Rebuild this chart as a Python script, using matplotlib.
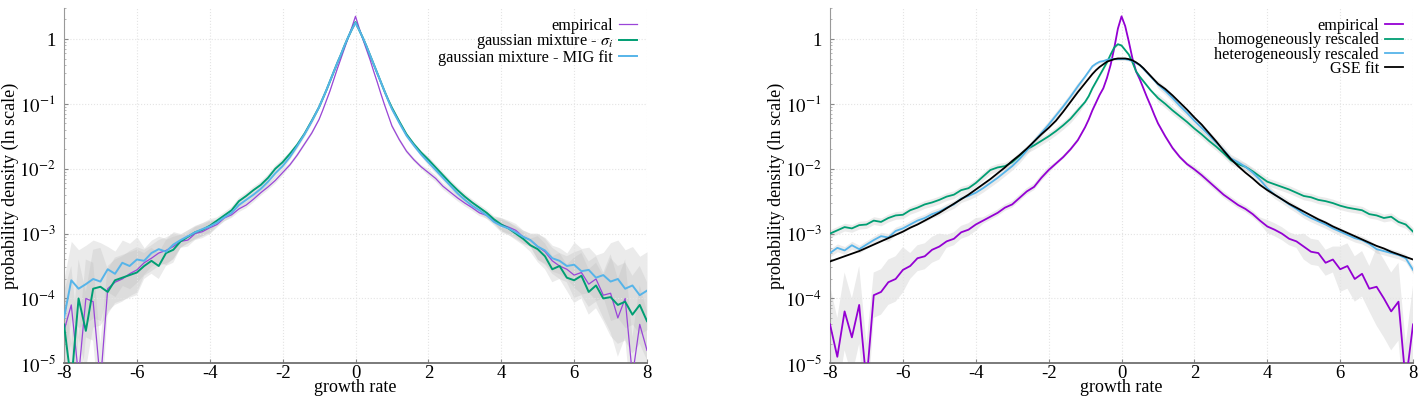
import numpy as np
import matplotlib
matplotlib.use("Agg")
import matplotlib.pyplot as plt
from matplotlib.ticker import FixedLocator, FixedFormatter, LogLocator, NullFormatter

plt.rcParams['font.family'] = ['Liberation Serif', 'DejaVu Serif']
plt.rcParams['mathtext.fontset'] = 'stix'
plt.rcParams['axes.unicode_minus'] = False

# ---------------- data (log10 of probability density) ----------------
# sample grid: -8..-1.2 step 0.2 (35), -1..0.9 step 0.1 (20), 1..8 step 0.2 (36)
growth = np.concatenate([np.arange(-8.0, -1.1, 0.2),
                         np.arange(-1.0, 0.95, 0.1),
                         np.arange(1.0, 8.01, 0.2)])

# left panel
L_empirical = [-4.5, -4.1, -5.2, -4.0, -4.05, -5.3, -3.85, -3.75, -3.7, -3.62,
               -3.56, -3.45, -3.38, -3.3, -3.26, -3.2, -3.12, -3.1, -3.0, -2.97,
               -2.91, -2.86, -2.76, -2.71, -2.62, -2.56, -2.47, -2.37, -2.28, -2.18,
               -2.06, -1.94, -1.79, -1.62, -1.45,
               -1.24, -1.10, -0.95, -0.80, -0.63, -0.46, -0.30, -0.14, 0.02, 0.18,
               0.35, 0.17, 0.0, -0.16, -0.32, -0.50, -0.67, -0.85, -1.02, -1.18,
               -1.34, -1.55, -1.73, -1.86, -1.97, -2.06, -2.15, -2.27, -2.36, -2.45,
               -2.53, -2.6, -2.68, -2.72, -2.8, -2.86, -2.9, -2.95, -3.05, -3.1,
               -3.2, -3.28, -3.42, -3.5, -3.55, -3.64, -3.6, -3.78, -3.7, -3.95,
               -3.92, -4.3, -4.0, -5.2, -4.4, -4.8]
L_mix_sigma = [-4.4, -5.3, -4.0, -4.5, -3.85, -3.82, -3.9, -3.72, -3.68, -3.64,
               -3.6, -3.5, -3.42, -3.5, -3.3, -3.25, -3.12, -3.05, -2.98, -2.94,
               -2.88, -2.8, -2.72, -2.64, -2.5, -2.42, -2.33, -2.25, -2.14, -2.0,
               -1.9, -1.77, -1.63, -1.46, -1.26,
               -1.05, -0.92, -0.79, -0.65, -0.51, -0.37, -0.24, -0.10, 0.03, 0.15,
               0.26, 0.14, 0.02, -0.11, -0.25, -0.39, -0.53, -0.67, -0.81, -0.94,
               -1.06, -1.27, -1.47, -1.62, -1.75, -1.86, -1.98, -2.1, -2.22, -2.33,
               -2.43, -2.52, -2.6, -2.68, -2.78, -2.86, -2.92, -3.0, -3.08, -3.18,
               -3.24, -3.35, -3.55, -3.5, -3.68, -3.72, -3.65, -3.9, -3.8, -4.0,
               -3.98, -4.1, -4.05, -4.25, -4.1, -4.35]
L_mix_mig = [-4.3, -3.72, -3.85, -3.78, -3.7, -3.74, -3.55, -3.62, -3.45, -3.5,
             -3.4, -3.42, -3.3, -3.24, -3.28, -3.17, -3.1, -3.04, -2.98, -2.93,
             -2.89, -2.83, -2.75, -2.68, -2.56, -2.48, -2.4, -2.31, -2.2, -2.07,
             -1.96, -1.82, -1.65, -1.47, -1.27,
             -1.05, -0.92, -0.79, -0.65, -0.51, -0.37, -0.24, -0.10, 0.03, 0.15,
             0.25, 0.14, 0.02, -0.11, -0.25, -0.39, -0.53, -0.67, -0.81, -0.95,
             -1.08, -1.29, -1.49, -1.64, -1.78, -1.9, -2.02, -2.14, -2.26, -2.38,
             -2.48, -2.57, -2.64, -2.72, -2.82, -2.88, -2.92, -2.98, -3.05, -3.1,
             -3.2, -3.26, -3.38, -3.42, -3.5, -3.48, -3.58, -3.56, -3.68, -3.64,
             -3.74, -3.7, -3.85, -3.8, -3.95, -3.88]

# right panel
R_empirical = [-4.4, -4.9, -4.2, -4.6, -4.1, -5.3, -3.95, -3.9, -3.75, -3.7,
               -3.56, -3.5, -3.38, -3.35, -3.25, -3.2, -3.12, -3.08, -2.98, -2.94,
               -2.86, -2.8, -2.74, -2.68, -2.6, -2.55, -2.45, -2.35, -2.28, -2.14,
               -2.02, -1.92, -1.82, -1.7, -1.56,
               -1.36, -1.24, -1.1, -0.98, -0.86, -0.76, -0.6, -0.4, -0.14, 0.16,
               0.35, 0.2, -0.04, -0.3, -0.5, -0.62, -0.76, -0.9, -1.03, -1.17,
               -1.3, -1.5, -1.68, -1.82, -1.93, -2.01, -2.1, -2.2, -2.3, -2.4,
               -2.48, -2.56, -2.62, -2.7, -2.8, -2.89, -2.94, -3.0, -3.08, -3.12,
               -3.2, -3.28, -3.3, -3.45, -3.4, -3.55, -3.5, -3.7, -3.62, -3.85,
               -3.82, -4.0, -4.2, -4.05, -5.3, -4.4]
R_homog = [-3.0, -2.95, -2.9, -2.92, -2.87, -2.86, -2.8, -2.82, -2.76, -2.72,
           -2.71, -2.64, -2.6, -2.55, -2.52, -2.48, -2.43, -2.4, -2.33, -2.3,
           -2.22, -2.12, -2.02, -1.98, -1.96, -1.9, -1.8, -1.7, -1.64, -1.57,
           -1.5, -1.42, -1.33, -1.23, -1.1,
           -0.97, -0.88, -0.76, -0.66, -0.56, -0.46, -0.36, -0.24, -0.13, -0.08,
           -0.1, -0.17, -0.24, -0.36, -0.5, -0.58, -0.65, -0.72, -0.79, -0.85,
           -0.91, -1.0, -1.1, -1.19, -1.28, -1.38, -1.47, -1.57, -1.66, -1.76,
           -1.87, -1.93, -1.97, -2.04, -2.12, -2.2, -2.24, -2.28, -2.32, -2.37,
           -2.42, -2.44, -2.48, -2.5, -2.53, -2.57, -2.6, -2.62, -2.64, -2.7,
           -2.72, -2.76, -2.74, -2.82, -2.86, -2.97]
R_heterog = [-3.3, -3.22, -3.26, -3.18, -3.24, -3.17, -3.1, -3.04, -3.06, -2.96,
             -2.92, -2.86, -2.8, -2.76, -2.7, -2.66, -2.6, -2.55, -2.46, -2.42,
             -2.37, -2.3, -2.22, -2.14, -2.05, -1.96, -1.85, -1.72, -1.58, -1.45,
             -1.32, -1.18, -1.04, -0.89, -0.73,
             -0.58, -0.5, -0.42, -0.38, -0.35, -0.34, -0.32, -0.31, -0.31, -0.31,
             -0.31, -0.31, -0.32, -0.34, -0.37, -0.4, -0.46, -0.52, -0.58, -0.64,
             -0.7, -0.8, -0.91, -1.03, -1.14, -1.26, -1.37, -1.48, -1.6, -1.71,
             -1.84, -1.9, -1.97, -2.06, -2.17, -2.3, -2.4, -2.47, -2.55, -2.62,
             -2.7, -2.76, -2.81, -2.86, -2.92, -2.97, -3.02, -3.07, -3.1, -3.16,
             -3.24, -3.27, -3.3, -3.33, -3.38, -3.56]
R_gse = [-3.43, -3.39, -3.35, -3.31, -3.27, -3.22, -3.17, -3.12, -3.07, -3.02,
         -2.97, -2.91, -2.86, -2.8, -2.74, -2.68, -2.61, -2.54, -2.47, -2.4,
         -2.32, -2.24, -2.16, -2.07, -1.98, -1.88, -1.79, -1.69, -1.58, -1.47,
         -1.37, -1.26, -1.12, -0.97, -0.82,
         -0.68, -0.61, -0.54, -0.48, -0.43, -0.39, -0.35, -0.33, -0.31, -0.30,
         -0.30, -0.30, -0.31, -0.33, -0.36, -0.40, -0.45, -0.51, -0.57, -0.63,
         -0.69, -0.77, -0.87, -0.98, -1.09, -1.21, -1.32, -1.45, -1.58, -1.72,
         -1.85, -1.96, -2.06, -2.15, -2.25, -2.33, -2.4, -2.47, -2.54, -2.6,
         -2.66, -2.72, -2.78, -2.83, -2.89, -2.94, -2.99, -3.04, -3.09, -3.14,
         -3.19, -3.23, -3.28, -3.32, -3.36, -3.4]

# half-width of the grey confidence band (log10 units) on the same grid
band_wide = ([0.6] * 6 + [0.35] * 5 + [0.2] * 5 + [0.1] * 5 + [0.05] * 10 + [0.03] * 4
             + [0.02] * 20
             + [0.03] * 5 + [0.05] * 10 + [0.1] * 5 + [0.2] * 5 + [0.35] * 5 + [0.6] * 6)
band_narrow = [0.06] * 35 + [0.02] * 20 + [0.06] * 36

x_ticks = [-8, -6, -4, -2, 0, 2, 4, 6, 8]
x_tick_labels = ['-8', '-6', '-4', '-2', '0', '2', '4', '6', '8']
y_ticks = [1e-5, 1e-4, 1e-3, 1e-2, 1e-1, 1]
y_tick_labels = [r'$10^{-5}$', r'$10^{-4}$', r'$10^{-3}$', r'$10^{-2}$', r'$10^{-1}$', '1']

left_series = [
    ("empirical", L_empirical, '#9a45d8', 0.9, band_wide),
    (r"gaussian mixture - $\sigma_i$", L_mix_sigma, '#009e73', 1.4, band_wide),
    ("gaussian mixture - MIG fit", L_mix_mig, '#56b4e9', 1.4, band_wide),
]
right_series = [
    ("empirical", R_empirical, '#9400d3', 1.3, band_wide),
    ("homogeneously rescaled", R_homog, '#009e73', 1.3, band_narrow),
    ("heterogeneously rescaled", R_heterog, '#56b4e9', 1.3, band_narrow),
    ("GSE fit", R_gse, '#000000', 1.3, None),
]

# ---------------- figure ----------------
fig = plt.figure(figsize=(14.22, 3.96), dpi=100)
ax_l = fig.add_axes([0.045, 0.0826, 0.41, 0.897])
ax_r = fig.add_axes([0.5837, 0.0826, 0.41, 0.897])


def draw(ax, series):
    x = growth
    for label, vals, color, lw, band in series:
        v = np.asarray(vals, dtype=float)
        if band is not None:
            b = np.asarray(band, dtype=float)
            ax.fill_between(x, 10 ** (v - b), 10 ** (v + b), color='#bdbdbd',
                            alpha=0.3, lw=0, zorder=1)
    for label, vals, color, lw, band in series:
        v = np.asarray(vals, dtype=float)
        ax.plot(x, 10 ** v, color=color, lw=lw, label=label, zorder=3)

    ax.set_yscale('log')
    ax.set_xlim(-8, 8)
    ax.set_ylim(1e-5, 3.0)
    ax.xaxis.set_major_locator(FixedLocator(x_ticks))
    ax.xaxis.set_major_formatter(FixedFormatter(x_tick_labels))
    ax.yaxis.set_major_locator(FixedLocator(y_ticks))
    ax.yaxis.set_major_formatter(FixedFormatter(y_tick_labels))
    ax.yaxis.set_minor_locator(LogLocator(base=10, subs=np.arange(2, 10)))
    ax.yaxis.set_minor_formatter(NullFormatter())
    ax.tick_params(axis='x', which='major', direction='in', length=3,
                   color='#888888', labelsize=13.5, pad=1)
    ax.tick_params(axis='y', which='major', direction='in', length=3,
                   color='#888888', labelsize=13.5, pad=6)
    ax.tick_params(axis='y', which='minor', direction='in', length=1.5,
                   color='#aaaaaa')
    ax.grid(True, which='major', linestyle=':', color='#e4e4e4', lw=0.8, zorder=0)
    for s in ('top', 'right'):
        ax.spines[s].set_visible(False)
    ax.spines['left'].set_color('#999999')
    ax.spines['left'].set_linewidth(0.8)
    ax.spines['bottom'].set_color('#707070')
    ax.spines['bottom'].set_linewidth(1.3)
    ax.set_xlabel('growth rate', fontsize=13, labelpad=-2)
    ax.set_ylabel('probability density (ln scale)', fontsize=13, labelpad=0)
    ax.legend(loc='upper right', bbox_to_anchor=(1.0, 1.0), frameon=False,
              markerfirst=False, handlelength=1.1, handletextpad=0.4,
              labelspacing=-0.1, fontsize=11.7, borderaxespad=0.2)


draw(ax_l, left_series)
draw(ax_r, right_series)

fig.savefig('out.png', dpi=100)
